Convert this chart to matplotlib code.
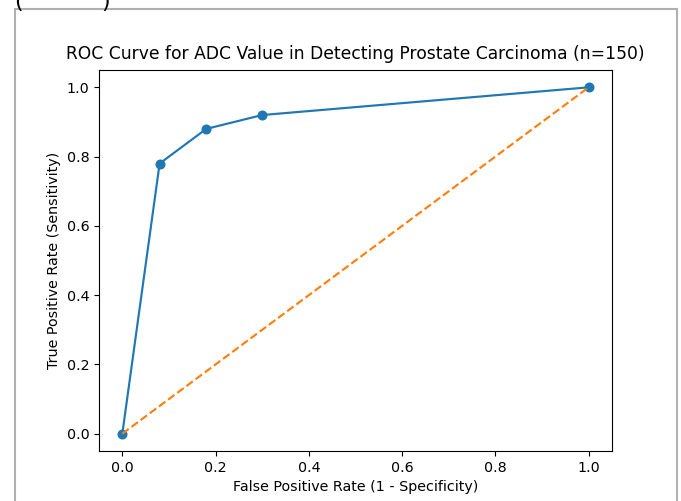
import matplotlib
matplotlib.use("Agg")
import matplotlib.pyplot as plt
from matplotlib.patches import Rectangle

# ROC points
fpr = [0.0, 0.08, 0.18, 0.30, 1.0]
tpr = [0.0, 0.78, 0.88, 0.92, 1.0]
diag = [0.0, 1.0]

plt.rcParams["font.size"] = 10.3

fig = plt.figure(figsize=(6.81, 5.01), dpi=100)
ax = fig.add_axes([99 / 681, 1 - 451 / 501, 513 / 681, 381 / 501])

ax.plot(fpr, tpr, marker="o", color="#1f77b4", linewidth=1.55, markersize=6.2)
ax.plot(diag, diag, linestyle="--", color="#ff7f0e", linewidth=1.55)
ax.set_title("ROC Curve for ADC Value in Detecting Prostate Carcinoma (n=150)",
             fontsize=12.35, pad=8)
ax.set_xlabel("False Positive Rate (1 - Specificity)")
ax.set_ylabel("True Positive Rate (Sensitivity)")

# screenshot frame around the figure
fig.patches.append(Rectangle((15 / 681, -0.05), 662 / 681, 1 - 9 / 501 + 0.05,
                             transform=fig.transFigure, fill=False,
                             edgecolor="#b0b0b0", linewidth=1.5))
fig.text(15 / 681, 1 - 2 / 501, "(           )", fontsize=16, va="center", ha="left")

fig.savefig("out.png", dpi=100)
plt.close(fig)
